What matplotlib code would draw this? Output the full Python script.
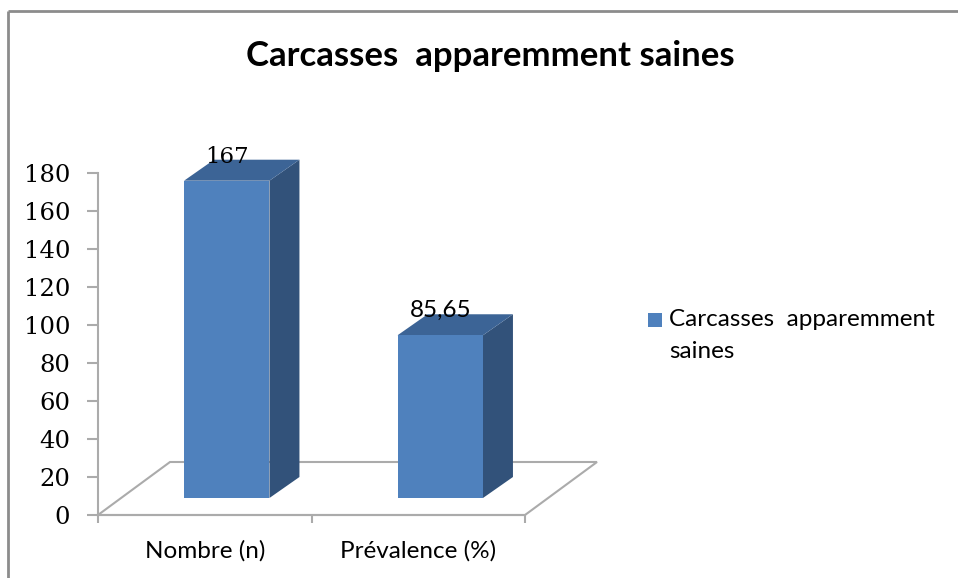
import matplotlib
matplotlib.use('Agg')
import matplotlib.pyplot as plt
from matplotlib.patches import Polygon, Rectangle
from matplotlib.lines import Line2D

# data
categories = ['Nombre (n)', 'Prévalence (%)']
values = [167, 85.65]
value_labels = ['167', '85,65']
series_name = 'Carcasses  apparemment saines'
legend_lines = ['Carcasses  apparemment', 'saines']
yticks = [0, 20, 40, 60, 80, 100, 120, 140, 160, 180]

front_col = '#4F81BD'
top_col = '#3C6496'
side_col = '#32527A'
grey = '#ABABAB'

fig = plt.figure(figsize=(9.58, 5.78), dpi=100)
ax = fig.add_axes([98 / 958, 63 / 578, 427 / 958, 342 / 578])
ax.set_xlim(-0.5, 1.5)
ax.set_ylim(0, 180)

# pixel -> data size
ux = 427 / 2.0
uy = 342 / 180.0

def shift(x, y, dx, dy):
    # move a data point by some pixels (depth of the 3d look)
    return (x + dx / ux, y + dy / uy)

# floor outline
floor_depth = (72, 53)
fl = [(-0.5, 0), (1.5, 0), shift(1.5, 0, *floor_depth), shift(-0.5, 0, *floor_depth)]
ax.add_patch(Polygon(fl, closed=True, fill=False, edgecolor=grey, lw=1.5, zorder=1, clip_on=False))

# bars
w = 0.4
front = (22, 17)
back = (52, 38)
for i, v in enumerate(values):
    x0, y0 = shift(i - w / 2, 0, *front)
    ax.bar(x0, v, width=w, bottom=y0, align='edge', color=front_col, zorder=3)
    x1 = x0 + w
    side = [(x1, y0), (x1, y0 + v), shift(i + w / 2, v, *back), shift(i + w / 2, 0, *back)]
    ax.add_patch(Polygon(side, closed=True, facecolor=side_col, edgecolor='none', zorder=2, clip_on=False))
    top = [(x0, y0 + v), (x1, y0 + v), shift(i + w / 2, v, *back), shift(i - w / 2, v, *back)]
    ax.add_patch(Polygon(top, closed=True, facecolor=top_col, edgecolor='none', zorder=2, clip_on=False))
    fam = 'DejaVu Serif' if i == 0 else 'Lato'
    size = 16.5 if i == 0 else 17.5
    ax.annotate(value_labels[i], (x0 + w / 2, y0 + v), xytext=(0, 18), textcoords='offset pixels',
                ha='center', va='baseline', fontsize=size, family=fam, zorder=5, annotation_clip=False)

# axes styling
for s in ['top', 'right']:
    ax.spines[s].set_visible(False)
ax.spines['left'].set_color(grey)
ax.spines['bottom'].set_color(grey)
ax.spines['left'].set_linewidth(1.5)
ax.spines['bottom'].set_linewidth(1.5)
ax.set_yticks(yticks)
ax.set_yticklabels([str(t) for t in yticks], family='DejaVu Serif', fontsize=17.5)
ax.tick_params(axis='y', length=8, width=1.5, color=grey, pad=12)
ax.set_xticks([-0.5, 0.5, 1.5])
ax.set_xticklabels(['', '', ''])
ax.tick_params(axis='x', which='major', length=6, width=1.5, color=grey)
ax.set_xticks([0, 1], minor=True)
ax.set_xticklabels(categories, minor=True, family='Lato', fontsize=17.5)
ax.tick_params(axis='x', which='minor', length=0, pad=18)
ax.set_facecolor('none')

fig.text(490 / 958, 1 - 56 / 578, series_name, ha='center', va='center',
         fontsize=25, fontweight='bold', family='Lato')

# legend (square + two text lines, like the excel one)
fig.add_artist(Rectangle((648 / 958, 1 - 327 / 578), 14 / 958, 14 / 578,
                         facecolor=front_col, edgecolor='none', transform=fig.transFigure))
for k, line in enumerate(legend_lines):
    fig.text(669 / 958, 1 - (320 + 32 * k) / 578, line, ha='left', va='center',
             fontsize=17.5, family='Lato')

# chart border (left and top only)
fig.add_artist(Line2D([8 / 958, 8 / 958], [0, 1 - 11 / 578], color='#8C8C8C', lw=2,
                      solid_capstyle='butt'))
fig.add_artist(Line2D([8 / 958, 1.01], [1 - 11 / 578, 1 - 11 / 578], color='#8C8C8C', lw=2,
                      solid_capstyle='butt'))

plt.savefig('out.png', dpi=100)
